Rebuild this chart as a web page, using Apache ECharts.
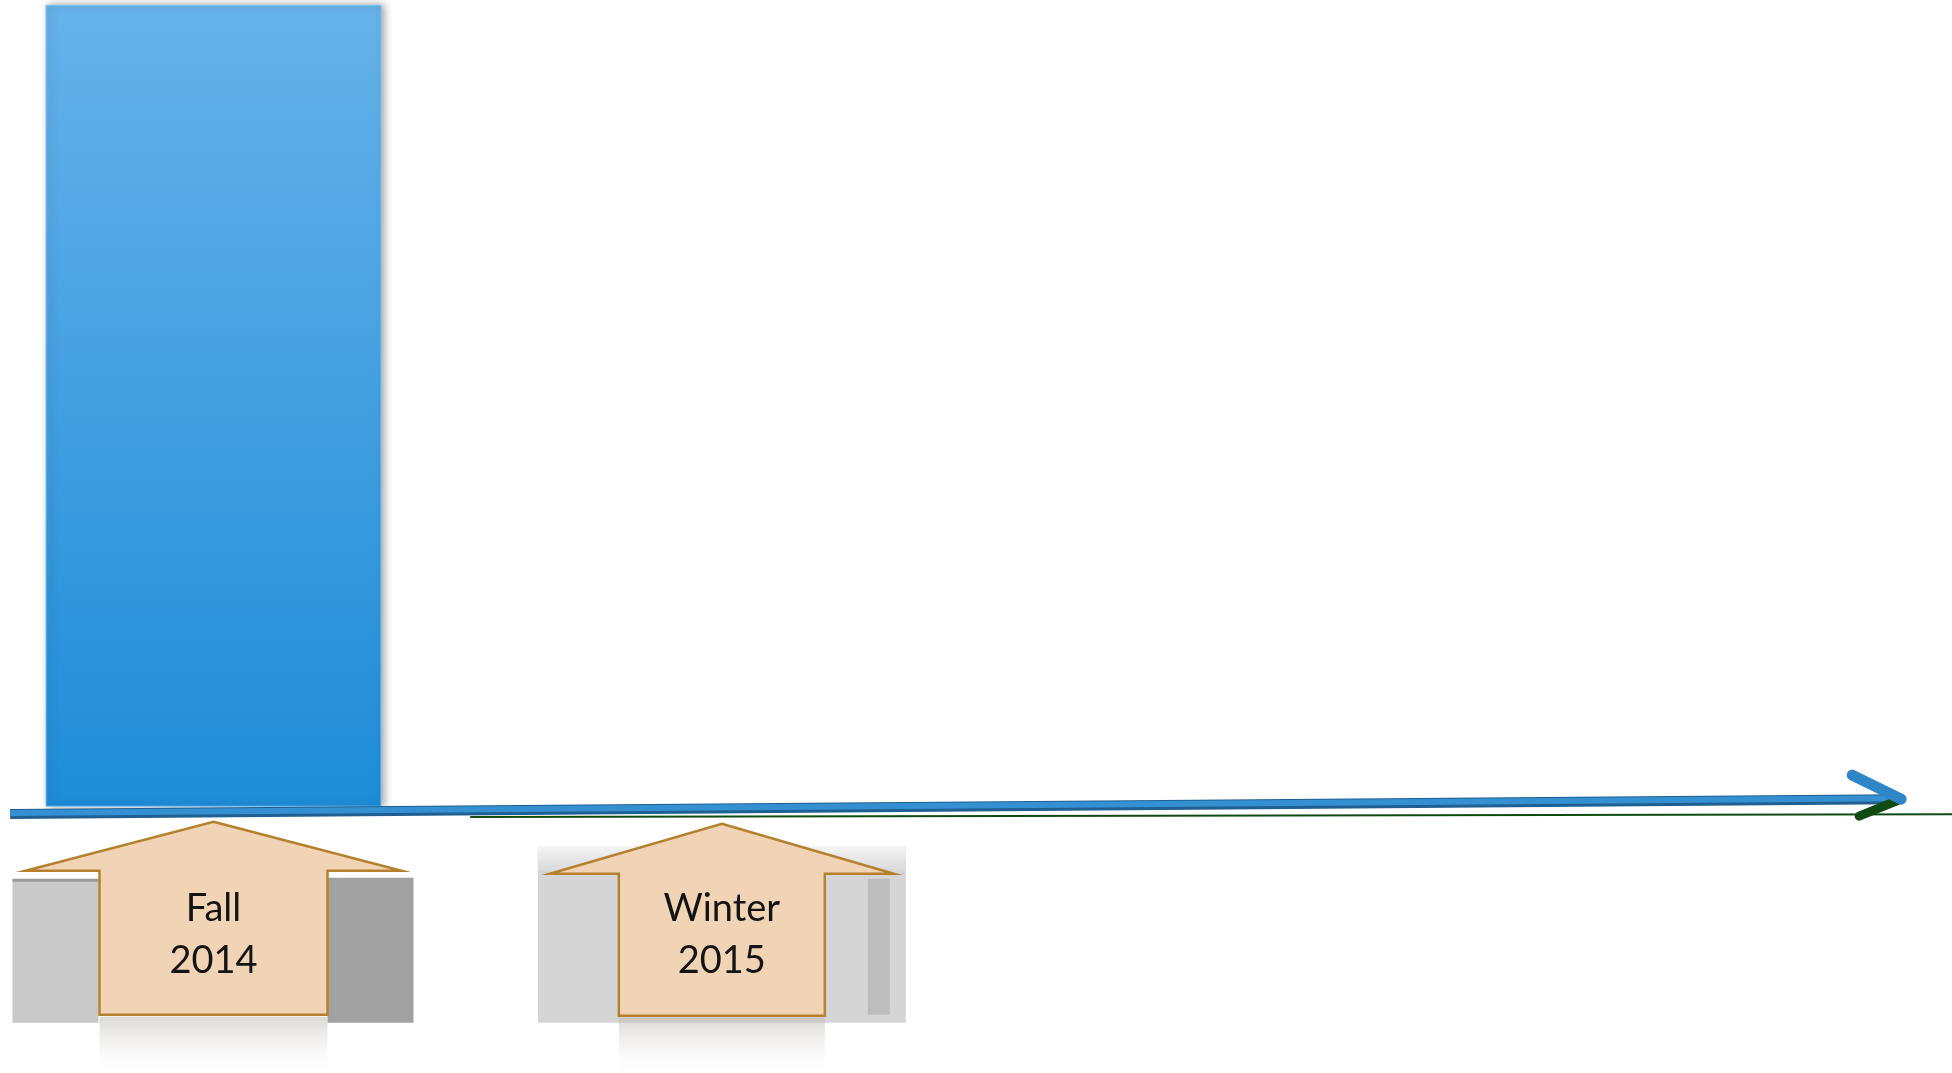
<!DOCTYPE html>
<html>
<head>
<meta charset="utf-8">
<title>Timeline</title>
<script src="https://cdn.jsdelivr.net/npm/echarts@6.0.0/dist/echarts.min.js"></script>
<style>
  html, body { margin: 0; padding: 0; background: #fff; }
  #chart { width: 1952px; height: 1073px; }
</style>
</head>
<body>
<div id="chart"></div>
<script>
// terms on the timeline (x position in term units)
const terms = ['Fall 2014', 'Winter 2015']
const termPositions = [1, 2]
// single bar, standing over Fall 2014
const barTerms = [1]
const barValues = [100]
// timeline arrow, from start to tip
const timelineX = [0.6, 4.32]
const timelineY = [-0.9, 0.95]

// shape of each callout arrow, px around the term position
const calloutShapes = [
  { tip: 15, base: 64, bottom: 208, head: 188, body: 114 },
  { tip: 17, base: 67, bottom: 209, head: 172, body: 103 }
]

const chart = echarts.init(document.getElementById('chart'), null, { renderer: 'canvas' })

function renderCallout (params, api) {
  const i = params.dataIndex
  const s = calloutShapes[i]
  const p = api.coord([api.value(0), 0])
  const cx = p[0]
  const by = p[1]
  const children = []

  // grey backdrop panels behind the callouts
  if (i === 0) {
    children.push({ type: 'rect', shape: { x: cx - 201, y: by + 73, width: 86, height: 143 }, style: { fill: '#c9c9c9' } })
    children.push({ type: 'rect', shape: { x: cx - 201, y: by + 72, width: 86, height: 3 }, style: { fill: '#9a9a9a' } })
    children.push({ type: 'rect', shape: { x: cx + 114, y: by + 71, width: 86, height: 145 }, style: { fill: '#a1a1a1' } })
  } else {
    children.push({ type: 'rect', shape: { x: cx - 184, y: by + 40, width: 368, height: 176 }, style: { fill: '#d5d5d5' } })
    children.push({ type: 'rect', shape: { x: cx - 184, y: by + 40, width: 368, height: 24 }, style: { fill: new echarts.graphic.LinearGradient(0, 0, 0, 1, [{ offset: 0, color: '#f4f4f4' }, { offset: 1, color: '#dadada' }]) } })
    children.push({ type: 'rect', shape: { x: cx + 146, y: by + 72, width: 22, height: 136 }, style: { fill: '#bdbdbd' } })
  }

  // faint reflection under the body
  children.push({
    type: 'rect',
    shape: { x: cx - s.body, y: by + s.bottom + 2, width: s.body * 2, height: 60 },
    style: { fill: new echarts.graphic.LinearGradient(0, 0, 0, 1, [{ offset: 0, color: 'rgba(190,185,180,0.55)' }, { offset: 1, color: 'rgba(255,255,255,0)' }]) }
  })

  children.push({
    type: 'polygon',
    shape: {
      points: [
        [cx, by + s.tip],
        [cx + s.head, by + s.base],
        [cx + s.body, by + s.base],
        [cx + s.body, by + s.bottom],
        [cx - s.body, by + s.bottom],
        [cx - s.body, by + s.base],
        [cx - s.head, by + s.base]
      ]
    },
    style: { fill: '#f1d4b6', stroke: '#b5812f', lineWidth: 2.5 }
  })

  children.push({
    type: 'text',
    style: {
      text: terms[i].split(' ').join('\n'),
      x: cx,
      y: by + 128,
      align: 'center',
      verticalAlign: 'middle',
      font: '38px Lato',
      lineHeight: 52,
      fill: '#141414'
    }
  })
  return { type: 'group', children }
}

function renderTimeline (params, api) {
  const a = api.coord([api.value(0), api.value(1)])
  const b = api.coord([api.value(2), api.value(3)])
  return {
    type: 'group',
    children: [
      // dark underline
      { type: 'line', shape: { x1: a[0] + 460, y1: a[1] + 3, x2: 1952, y2: b[1] + 15 }, style: { stroke: '#0f4a12', lineWidth: 2 } },
      // shaft
      { type: 'line', shape: { x1: a[0], y1: a[1], x2: b[0] - 4, y2: b[1] }, style: { stroke: '#1f5f92', lineWidth: 10 } },
      { type: 'line', shape: { x1: a[0], y1: a[1] - 1, x2: b[0] - 4, y2: b[1] - 1 }, style: { stroke: '#3590d2', lineWidth: 6 } },
      // open arrow head
      { type: 'polyline', shape: { points: [[b[0] - 42, b[1] + 17], [b[0], b[1]]] }, style: { stroke: '#0f4a12', lineWidth: 9, lineCap: 'round' } },
      { type: 'polyline', shape: { points: [[b[0] - 49, b[1] - 24], [b[0], b[1]]] }, style: { stroke: '#2f86c7', lineWidth: 11, lineCap: 'round' } }
    ]
  }
}

chart.setOption({
  animation: false,
  grid: { left: 0, right: 0, top: 0, bottom: 0 },
  xAxis: { type: 'value', min: 0.58, max: 4.42, show: false },
  yAxis: { type: 'value', min: -33.2, max: 100.6, show: false },
  series: [{
    type: 'bar',
    barWidth: 336,
    data: barTerms.map((x, i) => [x, barValues[i]]),
    itemStyle: {
      color: new echarts.graphic.LinearGradient(0, 0, 0, 1, [
        { offset: 0, color: '#67b2ea' },
        { offset: 1, color: '#1e8cd7' }
      ]),
      borderColor: '#7cc4f3',
      borderWidth: 1,
      shadowColor: 'rgba(0,0,0,0.35)',
      shadowBlur: 8,
      shadowOffsetX: 3
    },
    z: 2
  }, {
    type: 'custom',
    renderItem: renderCallout,
    data: termPositions.map((x, i) => [x, i]),
    z: 3
  }, {
    type: 'custom',
    renderItem: renderTimeline,
    data: [[timelineX[0], timelineY[0], timelineX[1], timelineY[1]]],
    z: 4
  }]
})
</script>
</body>
</html>
